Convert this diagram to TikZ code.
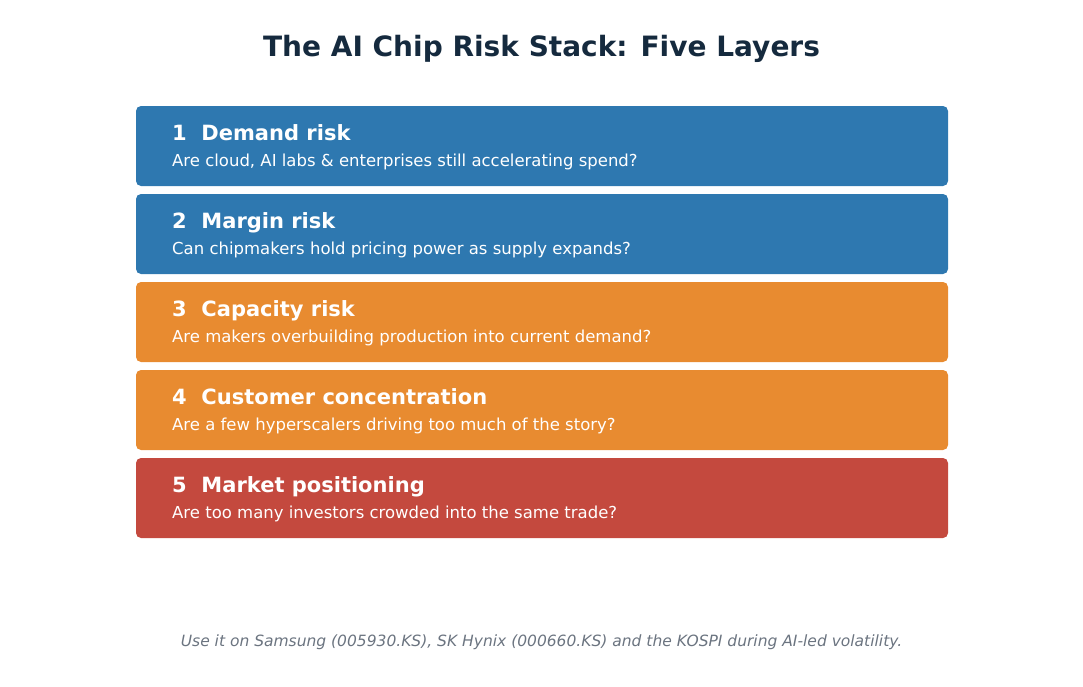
\documentclass[tikz,border=0pt]{standalone}
\usepackage{fontspec}
\setmainfont{DejaVu Sans}
\definecolor{cblue}{HTML}{2E78B0}
\definecolor{corange}{HTML}{E88B30}
\definecolor{cred}{HTML}{C4493E}
\definecolor{ctitle}{HTML}{152A3E}
\definecolor{cfoot}{HTML}{6B7480}
\tikzset{
  layer/.style={rounded corners=5pt, draw=none},
  head/.style={anchor=base west, text=white, font=\fontsize{21}{24}\selectfont\bfseries, inner sep=0pt},
  sub/.style={anchor=base west, text=white, font=\fontsize{16.5}{20}\selectfont, inner sep=0pt}
}
\begin{document}
\begin{tikzpicture}[x=1pt,y=-1pt]
\useasboundingbox (0,0) rectangle (1083,686);
\node[text=ctitle, font=\fontsize{28}{32}\selectfont\bfseries, anchor=base] (title) at (541.5,56) {The AI Chip Risk Stack: Five Layers};
\foreach \i/\c/\h/\s in {
 0/cblue/{1\ \ Demand risk}/{Are cloud, AI labs \& enterprises still accelerating spend?},
 1/cblue/{2\ \ Margin risk}/{Can chipmakers hold pricing power as supply expands?},
 2/corange/{3\ \ Capacity risk}/{Are makers overbuilding production into current demand?},
 3/corange/{4\ \ Customer concentration}/{Are a few hyperscalers driving too much of the story?},
 4/cred/{5\ \ Market positioning}/{Are too many investors crowded into the same trade?}}{
  \pgfmathsetmacro{\yy}{106+88*\i}
  \fill[layer, fill=\c] (136,\yy) rectangle (948,\yy+80);
  \node[head] (h\i) at (172,\yy+34) {\h};
  \node[sub] (s\i) at (172,\yy+60) {\s};
}
\node[text=cfoot, font=\fontsize{15.5}{18}\selectfont\itshape, anchor=base] (foot) at (541.5,646) {Use it on Samsung (005930.KS), SK Hynix (000660.KS) and the KOSPI during AI-led volatility.};
\end{tikzpicture}
\end{document}
